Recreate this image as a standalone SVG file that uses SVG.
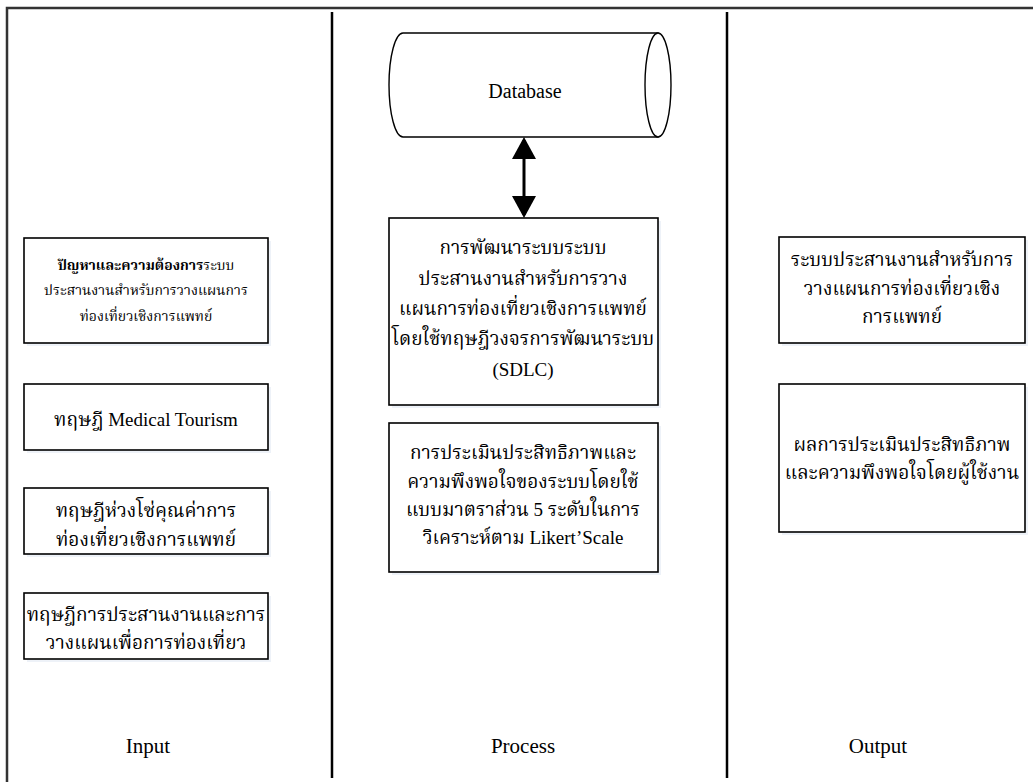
<svg xmlns="http://www.w3.org/2000/svg" width="1033" height="782" viewBox="0 0 1033 782">
<style>
.box{fill:#fff;stroke:#000;stroke-width:1.6}
.sh{fill:#eef2f8}
.t{font-family:"Liberation Serif","Noto Serif Thai","Noto Sans Thai",serif;font-size:19px;fill:#000;text-anchor:middle}
.s{font-size:14px}
.b{font-weight:bold}
.lab{font-size:21px}
.db{font-size:20px}
.frame{stroke:#333;stroke-width:2.5;fill:none}
.div{stroke:#000;stroke-width:2.5;fill:none}
</style>
<defs>
<marker id="ah" viewBox="0 0 22 24" refX="19" refY="12" markerWidth="22" markerHeight="24" markerUnits="userSpaceOnUse" orient="auto-start-reverse">
<path d="M0,0 L22,12 L0,24 z" fill="#000"/>
</marker>
</defs>
<rect width="1033" height="782" fill="#fff"/>
<g id="frame">
<path class="frame" d="M7,782 L7,8 L1033,8"/>
<path class="div" d="M332,12 L332,778 M727,12 L727,778"/>
</g>
<g id="database">
<path d="M403,33 L658,33 L658,137 L403,137 A14 52 0 0 1 403 33 z" fill="#fff" stroke="#000" stroke-width="1.4"/>
<ellipse cx="658" cy="85" rx="13" ry="52" fill="#fff" stroke="#000" stroke-width="1.4"/>
<text class="t db" x="525" y="98">Database</text>
</g>
<g id="connectors">
<line x1="524" y1="140" x2="524" y2="215" stroke="#000" stroke-width="3" marker-start="url(#ah)" marker-end="url(#ah)"/>
</g>
<g id="in1">
<rect class="sh" x="27" y="241" width="244" height="105"/>
<rect class="box" x="24" y="238" width="244" height="105"/>
<text class="t s" x="146" y="270"><tspan class="b">ปัญหาและความต้องการ</tspan>ระบบ</text>
<text class="t s" x="146" y="295">ประสานงานสำหรับการวางแผนการ</text>
<text class="t s" x="146" y="321">ท่องเที่ยวเชิงการแพทย์</text>
</g>
<g id="in2">
<rect class="sh" x="27" y="387" width="244" height="66"/>
<rect class="box" x="24" y="384" width="244" height="66"/>
<text class="t" x="146" y="426">ทฤษฎี Medical Tourism</text>
</g>
<g id="in3">
<rect class="sh" x="27" y="491" width="244" height="66"/>
<rect class="box" x="24" y="488" width="244" height="66"/>
<text class="t" x="146" y="517">ทฤษฎีห่วงโซ่คุณค่าการ</text>
<text class="t" x="146" y="546">ท่องเที่ยวเชิงการแพทย์</text>
</g>
<g id="in4">
<rect class="sh" x="27" y="596" width="244" height="66"/>
<rect class="box" x="24" y="593" width="244" height="66"/>
<text class="t" x="146" y="621">ทฤษฎีการประสานงานและการ</text>
<text class="t" x="146" y="649">วางแผนเพื่อการท่องเที่ยว</text>
</g>
<g id="proc1">
<rect class="sh" x="392" y="221" width="269" height="187"/>
<rect class="box" x="389" y="218" width="269" height="187"/>
<text class="t" x="523" y="254">การพัฒนาระบบระบบ</text>
<text class="t" x="523" y="285">ประสานงานสำหรับการวาง</text>
<text class="t" x="523" y="315">แผนการท่องเที่ยวเชิงการแพทย์</text>
<text class="t" x="523" y="345">โดยใช้ทฤษฎีวงจรการพัฒนาระบบ</text>
<text class="t" x="523" y="376">(SDLC)</text>
</g>
<g id="proc2">
<rect class="sh" x="392" y="426" width="269" height="149"/>
<rect class="box" x="389" y="423" width="269" height="149"/>
<text class="t" x="523" y="459">การประเมินประสิทธิภาพและ</text>
<text class="t" x="523" y="488">ความพึงพอใจของระบบโดยใช้</text>
<text class="t" x="523" y="516">แบบมาตราส่วน 5 ระดับในการ</text>
<text class="t" x="523" y="544">วิเคราะห์ตาม Likert’Scale</text>
</g>
<g id="out1">
<rect class="sh" x="782" y="240" width="246" height="106"/>
<rect class="box" x="779" y="237" width="246" height="106"/>
<text class="t" x="902" y="266">ระบบประสานงานสำหรับการ</text>
<text class="t" x="902" y="295">วางแผนการท่องเที่ยวเชิง</text>
<text class="t" x="902" y="323">การแพทย์</text>
</g>
<g id="out2">
<rect class="sh" x="782" y="387" width="246" height="148"/>
<rect class="box" x="779" y="384" width="246" height="148"/>
<text class="t" x="902" y="451">ผลการประเมินประสิทธิภาพ</text>
<text class="t" x="902" y="479">และความพึงพอใจโดยผู้ใช้งาน</text>
</g>
<g id="labels">
<text class="t lab" x="148" y="753">Input</text>
<text class="t lab" x="523" y="753">Process</text>
<text class="t lab" x="878" y="753">Output</text>
</g>
</svg>
